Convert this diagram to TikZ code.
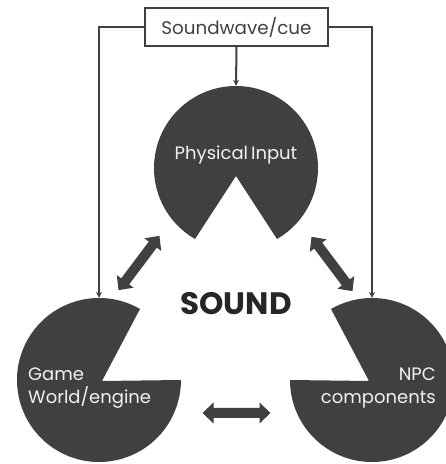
\documentclass[tikz,border=0pt]{standalone}
\usepackage{fontspec}
\setmainfont{Poppins}
\usetikzlibrary{arrows.meta,calc}
\definecolor{pacgray}{HTML}{404040}
\definecolor{labelwhite}{HTML}{F2F2F2}
\definecolor{titlegray}{HTML}{262626}
\tikzset{
  x=1pt, y=1pt,
  hub/.style={circle, minimum size=164pt, inner sep=0pt},
  feed/.style={draw=pacgray, line width=2pt, -{Stealth[length=6pt,width=6pt]}},
  cuebox/.style={draw=pacgray, line width=2pt, fill=white, minimum width=183pt, minimum height=38pt, inner sep=0pt, font=\fontsize{18.3}{20}\selectfont, text=pacgray},
  inlabel/.style={text=labelwhite, font=\fontsize{18}{23}\selectfont, inner sep=0pt},
  fatarrow/.style={fill=pacgray},
}
\begin{document}
\begin{tikzpicture}
\useasboundingbox (0,0) rectangle (446,464);
\clip (0,0) rectangle (446,464);

% circle anchors
\node[hub] (phys) at (236,296) {};
\node[hub] (game) at (99,84) {};
\node[hub] (npc) at (372,84) {};

% pac-man discs, each with a 60 degree bite facing the middle
\fill[pacgray] (236,288) -- ($(phys.center)+(-60:82)$) arc[start angle=-60, end angle=240, radius=82] -- cycle;
\fill[pacgray] (102,83) -- ($(game.center)+(60:82)$) arc[start angle=60, end angle=360, radius=82] -- cycle;
\fill[pacgray] (369,83) -- ($(npc.center)+(180:82)$) arc[start angle=180, end angle=480, radius=82] -- cycle;

% source box and feeds
\node[cuebox] (cue) at (236.5,437) {Soundwave/cue};
\draw[feed] (cue.south) -- (phys.north);
\draw[feed] (cue.west) -| (game.north);
\draw[feed] (cue.east) -| (npc.north);

% labels
\node[inlabel] (physlbl) at (236,309) {Physical\,Input};
\node[inlabel, anchor=west, align=left] (gamelbl) at (28,76) {Game\\World/engine};
\node[inlabel, anchor=east, align=right] (npclbl) at (436,76) {NPC\\components};
\node[text=titlegray, font=\fontsize{31}{34}\selectfont\bfseries] (sound) at (236,160) {SOUND};

% two-headed block arrows between the discs
\foreach \pos/\ang in {{(139,201)}/53, {(332,200)}/-53, {(236.5,51)}/0}{
  \fill[fatarrow, shift={\pos}, rotate=\ang]
    (-34,0) -- (-23,10.5) -- (-23,5) -- (23,5) -- (23,10.5) -- (34,0)
    -- (23,-10.5) -- (23,-5) -- (-23,-5) -- (-23,-10.5) -- cycle;
}
\end{tikzpicture}
\end{document}
